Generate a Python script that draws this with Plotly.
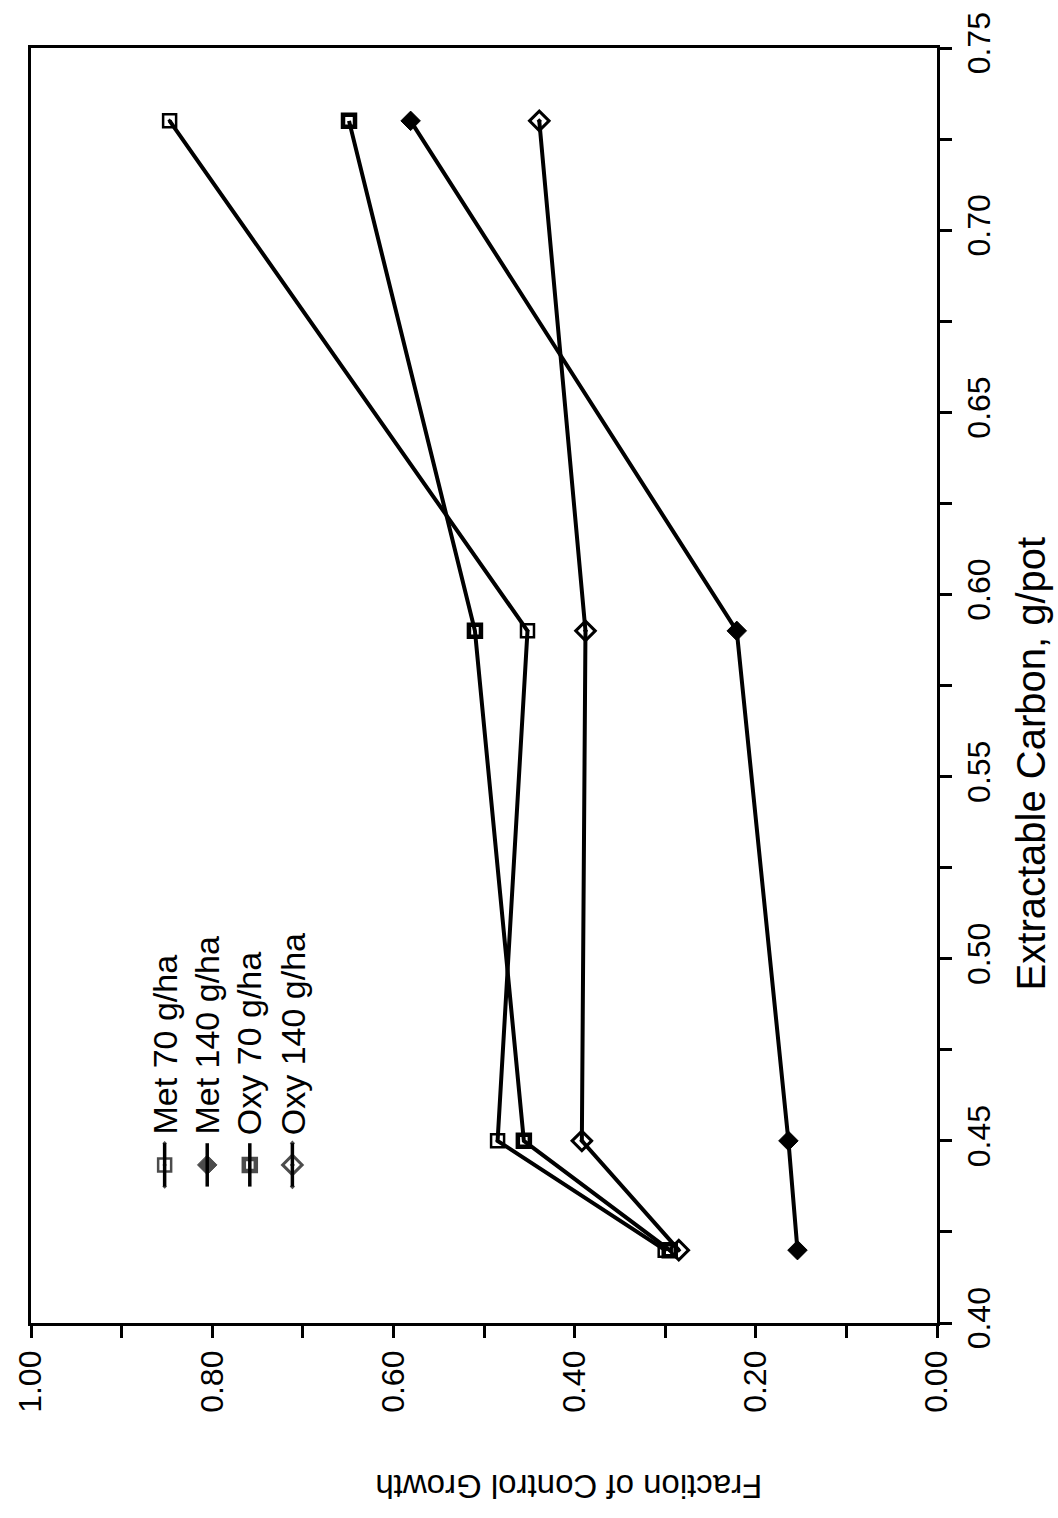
import plotly.graph_objects as go

# ---- data ----
carbon = [0.42, 0.45, 0.59, 0.73]
met70 = [0.300, 0.485, 0.452, 0.847]
met140 = [0.154, 0.164, 0.221, 0.581]
oxy70 = [0.295, 0.456, 0.510, 0.649]
oxy140 = [0.285, 0.392, 0.388, 0.439]

series_names = ["Met 70 g/ha", "Met 140 g/ha", "Oxy 70 g/ha", "Oxy 140 g/ha"]
series_vals = [met70, met140, oxy70, oxy140]
symbols = ["square-open-dot", "diamond", "square-open", "diamond-open-dot"]
msizes = [13, 15, 12, 15]
mlinew = [2.5, 1, 4.5, 3]

x_ticks = [0.0, 0.2, 0.4, 0.6, 0.8, 1.0]
y_ticks = [0.40, 0.45, 0.50, 0.55, 0.60, 0.65, 0.70, 0.75]

FONT = "Liberation Sans, Arial, sans-serif"
W, H = 1058, 1518
L, R, T, B = 22, 121, 45, 195

fig = go.Figure()

for name, vals, sym, ms, mw in zip(series_names, series_vals, symbols, msizes, mlinew):
    fig.add_trace(go.Scatter(
        x=vals, y=carbon, mode="lines+markers", name=name,
        line=dict(color="black", width=4),
        marker=dict(symbol=sym, size=ms, color="black",
                    line=dict(color="black", width=mw)),
        showlegend=False,
    ))

# ---- custom rotated legend (in an overlay 0..1 axis pair) ----
leg_x0, leg_dx = 0.1475, 0.047
leg_sym_y = 0.124
leg_half = 0.017
for i, (name, sym, ms, mw) in enumerate(zip(series_names, symbols, msizes, mlinew)):
    lx = leg_x0 + i * leg_dx
    fig.add_trace(go.Scatter(
        x=[lx, lx, lx], y=[leg_sym_y - leg_half, leg_sym_y, leg_sym_y + leg_half],
        xaxis="x2", yaxis="y2", mode="lines+markers",
        line=dict(color="black", width=3.5),
        marker=dict(symbol=sym, size=[0, ms, 0], color="black",
                    line=dict(color="black", width=mw)),
        showlegend=False, hoverinfo="skip",
    ))
    fig.add_annotation(
        x=lx, y=0.146, xref="x2", yref="y2", text=name, showarrow=False,
        textangle=-90, xanchor="center", yanchor="bottom",
        font=dict(family=FONT, size=34, color="black"),
    )

# ---- axis titles ----
fig.add_annotation(
    x=(1032 - L) / (W - L - R), y=(H - B - 762) / (H - T - B),
    xref="paper", yref="paper", text="Extractable Carbon, g/pot",
    showarrow=False, textangle=-90, xanchor="center", yanchor="middle",
    font=dict(family=FONT, size=40, color="black"),
)
fig.add_annotation(
    x=(565 - L) / (W - L - R), y=(H - B - 1487) / (H - T - B),
    xref="paper", yref="paper", text="Fraction of Control Growth",
    showarrow=False, textangle=180, xanchor="center", yanchor="middle",
    font=dict(family=FONT, size=33, color="black"),
)

fig.update_layout(
    width=W, height=H,
    margin=dict(l=L, r=R, t=T, b=B),
    paper_bgcolor="white", plot_bgcolor="white",
    font=dict(family=FONT, size=32, color="black"),
    xaxis=dict(
        range=[1.0, 0.0], tickvals=x_ticks,
        ticktext=[f"{v:.2f}" for v in x_ticks],
        tickangle=-90, ticks="outside", ticklen=12, tickwidth=2.5,
        tickcolor="black", showline=True, linecolor="black", linewidth=2.5,
        mirror=True, showgrid=False, zeroline=False,
        minor=dict(dtick=0.1, ticks="outside", ticklen=12, tickwidth=2.5,
                   tickcolor="black", showgrid=False),
        tickfont=dict(family=FONT, size=32, color="black"),
    ),
    yaxis=dict(
        range=[0.40, 0.75], tickvals=y_ticks,
        ticktext=[f"{v:.2f}" for v in y_ticks], side="right",
        tickangle=-90, ticks="outside", ticklen=12, tickwidth=2.5,
        tickcolor="black", showline=True, linecolor="black", linewidth=2.5,
        mirror=True, showgrid=False, zeroline=False,
        minor=dict(dtick=0.025, ticks="outside", ticklen=12, tickwidth=2.5,
                   tickcolor="black", showgrid=False),
        tickfont=dict(family=FONT, size=32, color="black"),
    ),
    xaxis2=dict(domain=[0, 1], range=[0, 1], overlaying="x", visible=False,
                anchor="y2"),
    yaxis2=dict(domain=[0, 1], range=[0, 1], overlaying="y", visible=False,
                anchor="x2"),
)

fig.write_html("out.html")
